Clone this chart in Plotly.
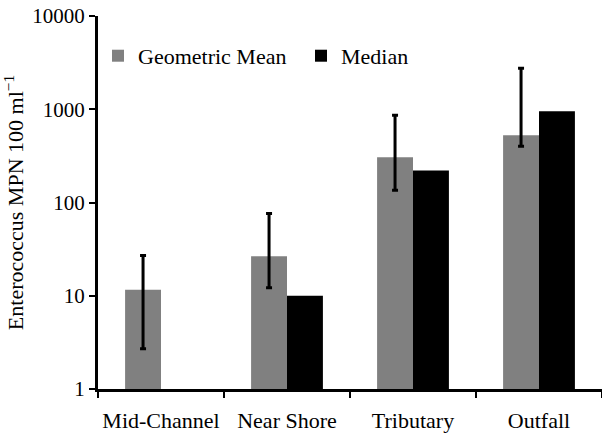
import plotly.graph_objects as go

categories = ["Mid-Channel", "Near Shore", "Tributary", "Outfall"]
geo_mean = [11.6, 26.5, 305, 525]
geo_low = [2.7, 12.2, 135, 400]
geo_high = [27, 76, 860, 2760]
median = [None, 10, 221, 950]
ytick_vals = [1, 10, 100, 1000, 10000]
ytick_text = ["1", "10", "100", "1000", "10000"]

err_plus = [h - m for h, m in zip(geo_high, geo_mean)]
err_minus = [m - l for m, l in zip(geo_mean, geo_low)]

FONT = "Liberation Serif"

fig = go.Figure()
fig.add_trace(go.Bar(
    name="Geometric Mean", x=categories, y=geo_mean,
    marker=dict(color="#808080", line=dict(width=0)),
    error_y=dict(type="data", symmetric=False, array=err_plus, arrayminus=err_minus,
                 color="black", thickness=3, width=3),
))
fig.add_trace(go.Bar(
    name="Median", x=categories, y=median,
    marker=dict(color="#000000", line=dict(width=0)),
))

fig.update_layout(
    width=602, height=435,
    margin=dict(l=98, r=0, t=16, b=46),
    paper_bgcolor="white", plot_bgcolor="white",
    barmode="group", bargap=0.43, bargroupgap=0,
    font=dict(family=FONT, size=21, color="black"),
    showlegend=True,
    legend=dict(orientation="h", x=0.0, xanchor="left", y=0.893, yanchor="middle",
                font=dict(family=FONT, size=22, color="black"),
                bgcolor="rgba(0,0,0,0)", entrywidth=158, entrywidthmode="pixels",
                traceorder="normal"),
)
fig.update_xaxes(
    type="category", showline=True, linecolor="black", linewidth=3,
    ticks="outside", tickson="boundaries", ticklen=6, tickwidth=2, tickcolor="black",
    tickangle=0, automargin=False, ticklabelstandoff=10,
    tickfont=dict(family=FONT, size=22, color="black"), showgrid=False, zeroline=False,
)
fig.update_yaxes(
    type="log", range=[0, 4], showline=True, linecolor="black", linewidth=3,
    ticks="outside", ticklen=6, tickwidth=2, tickcolor="black",
    tickvals=ytick_vals, ticktext=ytick_text, automargin=False,
    tickfont=dict(family=FONT, size=21, color="black"), showgrid=False, zeroline=False,
    title=dict(text="Enterococcus MPN 100 ml<sup>−1</sup>", standoff=4,
               font=dict(family=FONT, size=22, color="black")),
)

fig.write_html("out.html")
